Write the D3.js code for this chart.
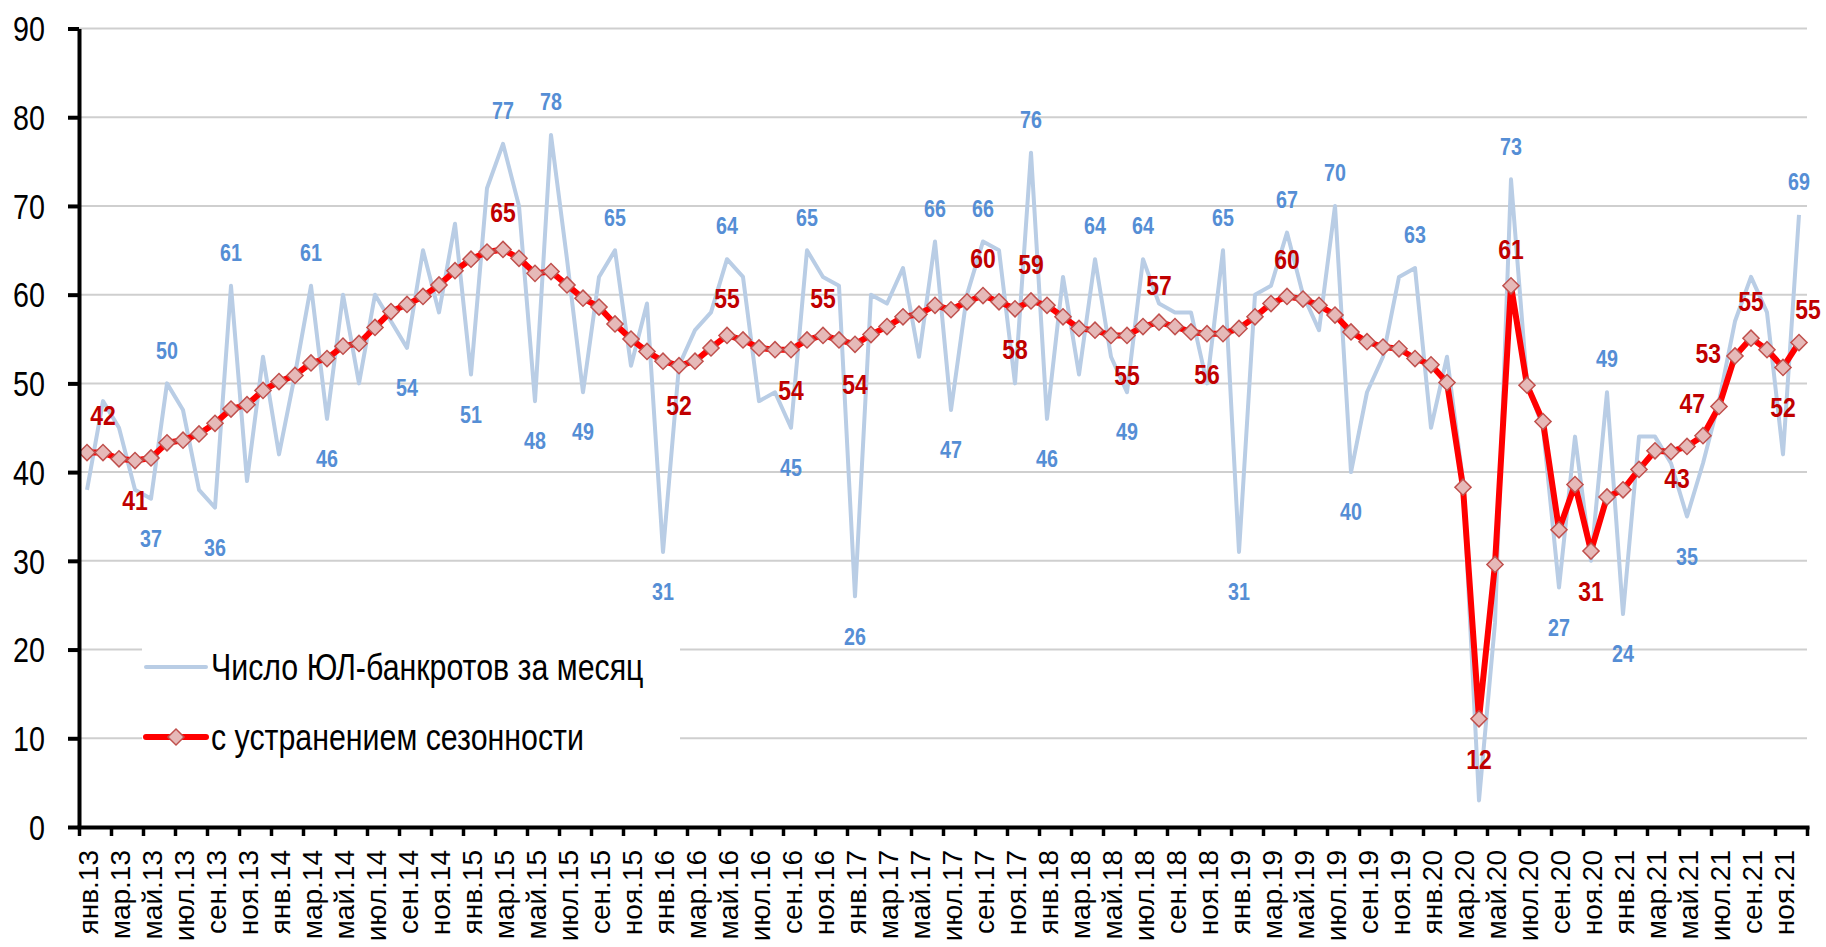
<!DOCTYPE html>
<html>
<head>
<meta charset="utf-8">
<script src="https://cdn.jsdelivr.net/npm/d3@7"></script>
<style>
  body { margin: 0; background: #fff; }
  svg { display: block; }
</style>
</head>
<body>
<script>
// month / year parts of the category labels
let monthNames = ['янв.', 'фев.', 'мар.', 'апр.', 'май.', 'июн.', 'июл.', 'авг.', 'сен.', 'окт.', 'ноя.', 'дек.'];
let years = ['13', '14', '15', '16', '17', '18', '19', '20', '21'];

// monthly number of bankrupt legal entities, jan.13 .. dec.21
let monthly = [
  38, 48, 45, 38, 37, 50, 47, 38, 36, 61, 39, 53,
  42, 51, 61, 46, 60, 50, 60, 57, 54, 65, 58, 68,
  51, 72, 77, 70, 48, 78, 64, 49, 62, 65, 52, 59,
  31, 52, 56, 58, 64, 62, 48, 49, 45, 65, 62, 61,
  26, 60, 59, 63, 53, 66, 47, 60, 66, 65, 50, 76,
  46, 62, 51, 64, 53, 49, 64, 59, 58, 58, 50, 65,
  31, 60, 61, 67, 60, 56, 70, 40, 49, 53, 62, 63,
  45, 53, 39, 3, 23, 73, 50, 45, 27, 44, 30, 49,
  24, 44, 44, 41, 35, 41, 48, 57, 62, 58, 42, 69
];

// seasonally adjusted
let adjusted = [
  42.2, 42.2, 41.5, 41.3, 41.6, 43.3, 43.6, 44.3, 45.5, 47.1, 47.6, 49.2,
  50.2, 50.9, 52.3, 52.8, 54.2, 54.5, 56.3, 58.1, 58.9, 59.8, 61.1, 62.7,
  64.0, 64.8, 65.1, 64.1, 62.4, 62.6, 61.1, 59.6, 58.6, 56.7, 55.0, 53.6,
  52.5, 52.0, 52.5, 54.0, 55.4, 54.9, 54.0, 53.8, 53.8, 54.9, 55.4, 54.9,
  54.4, 55.5, 56.4, 57.5, 57.8, 58.8, 58.3, 59.2, 59.9, 59.2, 58.4, 59.3,
  58.8, 57.5, 56.2, 56.0, 55.4, 55.4, 56.4, 56.9, 56.4, 55.8, 55.6, 55.6,
  56.2, 57.5, 59.0, 59.8, 59.5, 58.8, 57.7, 55.8, 54.7, 54.1, 53.9, 52.8,
  52.1, 50.1, 38.3, 12.2, 29.6, 61.0, 49.8, 45.7, 33.5, 38.6, 31.1, 37.2,
  38.0, 40.3, 42.4, 42.3, 42.9, 44.1, 47.4, 53.1, 55.1, 53.8, 51.8, 54.6
];

// which points carry a value label: [month index, side]
let monthlyLabels = [
  [4, 'b'], [5, 'a'], [8, 'b'], [9, 'a'], [14, 'a'], [15, 'b'], [20, 'b'],
  [24, 'b'], [26, 'a'], [28, 'b'], [29, 'a'], [31, 'b'], [33, 'a'], [36, 'b'],
  [40, 'a'], [44, 'b'], [45, 'a'], [48, 'b'], [53, 'a'], [54, 'b'], [56, 'a'],
  [59, 'a'], [60, 'b'], [63, 'a'], [65, 'b'], [66, 'a'], [71, 'a'], [72, 'b'],
  [75, 'a'], [78, 'a'], [79, 'b'], [83, 'a'], [89, 'a'], [92, 'b'], [95, 'a'],
  [96, 'b'], [100, 'b'], [107, 'a']
];
let adjustedLabels = [
  [1, 'a'], [3, 'b'], [26, 'a'], [37, 'b'], [40, 'a'], [44, 'b'], [46, 'a'],
  [48, 'b'], [56, 'a'], [58, 'b'], [59, 'a'], [65, 'b'], [67, 'a'], [70, 'b'],
  [75, 'a'], [87, 'b'], [89, 'a'], [94, 'b'], [100, 'bl'], [102, 'l'], [103, 'l'],
  [104, 'a'], [106, 'b'], [107, 'ar']
];

let yTicks = [0, 10, 20, 30, 40, 50, 60, 70, 80, 90];
let legendNames = ['Число ЮЛ-банкротов за месяц', 'с устранением сезонности'];

let months = [];
years.forEach(function(y) {
  monthNames.forEach(function(m) { months.push(m + y); });
});

// no narrow face installed: squeeze the regular one horizontally
let font = '"Liberation Sans", Arial, sans-serif';
let squeeze = 0.82;

let config = { svg: {}, plot: {} };
config.svg.width = 1826;
config.svg.height = 947;
config.plot.left = 79;
config.plot.right = 1807;
config.plot.top = 28.5;
config.plot.bottom = 827;

let svg = d3.select('body').append('svg')
  .attr('width', config.svg.width)
  .attr('height', config.svg.height);

let x = d3.scaleLinear().domain([0, months.length]).range([config.plot.left, config.plot.right]);
let y = d3.scaleLinear().domain([0, 90]).range([config.plot.bottom, config.plot.top]);
let cx = function(i) { return x(i + 0.5); };

// gridlines
svg.append('g')
  .selectAll('line')
  .data(yTicks.slice(1))
  .enter()
  .append('line')
  .attr('x1', config.plot.left)
  .attr('x2', config.plot.right)
  .attr('y1', d => y(d))
  .attr('y2', d => y(d))
  .attr('stroke', '#cfcfcf')
  .attr('stroke-width', 2);

// legend box sits over the gridlines
let legend = svg.append('g');
legend.append('rect')
  .attr('x', 142).attr('y', 626)
  .attr('width', 538).attr('height', 146)
  .attr('fill', '#fff');

// monthly line
svg.append('path')
  .datum(monthly)
  .attr('fill', 'none')
  .attr('stroke', '#b9cde5')
  .attr('stroke-width', 4)
  .attr('stroke-linejoin', 'round')
  .attr('d', d3.line().x((d, i) => cx(i)).y(d => y(d)));

// seasonally adjusted line
svg.append('path')
  .datum(adjusted)
  .attr('fill', 'none')
  .attr('stroke', '#ff0000')
  .attr('stroke-width', 6)
  .attr('stroke-linejoin', 'round')
  .attr('d', d3.line().x((d, i) => cx(i)).y(d => y(d)));

let diamond = d3.symbol().type(d3.symbolSquare).size(130);

svg.append('g')
  .selectAll('path')
  .data(adjusted)
  .enter()
  .append('path')
  .attr('d', diamond)
  .attr('transform', (d, i) => translate(cx(i), y(d)) + ' rotate(45)')
  .attr('fill', '#e6b9b8')
  .attr('stroke', '#c0504d')
  .attr('stroke-width', 1.5);

// axes
let gy = svg.append('g')
  .attr('transform', translate(config.plot.left, 0))
  .call(d3.axisLeft(y).tickValues(yTicks).tickSize(11).tickSizeOuter(0));
gy.select('.domain').attr('stroke-width', 4);
gy.selectAll('.tick line').attr('stroke-width', 4);
gy.selectAll('text')
  .attr('x', 0)
  .attr('dy', '0.35em')
  .attr('transform', translate(-34, 0) + ' scale(' + squeeze + ',1)')
  .attr('font-family', font)
  .attr('font-size', 35)
  .attr('fill', '#000');

let gx = svg.append('g')
  .attr('transform', translate(0, config.plot.bottom))
  .call(d3.axisBottom(x).tickValues(d3.range(0, months.length + 1, 2)).tickFormat('').tickSize(9).tickSizeOuter(0));
gx.select('.domain').attr('stroke-width', 4).attr('stroke-linecap', 'square');
gx.selectAll('.tick line').attr('stroke-width', 3.5);

let gl = svg.append('g')
  .attr('transform', translate(0, config.plot.bottom))
  .call(d3.axisBottom(x)
    .tickValues(d3.range(0, months.length, 2).map(i => i + 0.5))
    .tickFormat(d => months[d - 0.5])
    .tickSize(0));
gl.select('.domain').remove();
gl.selectAll('text')
  .attr('font-family', font)
  .attr('font-size', 28)
  .attr('fill', '#000')
  .attr('text-anchor', 'end')
  .attr('transform', 'rotate(-90)')
  .attr('x', -23)
  .attr('y', 0)
  .attr('dy', '0.36em');

// value labels
function labelPos(i, v, side, up, down) {
  let px = cx(i), py = y(v), anchor = 'middle';
  if (side === 'a') py -= up;
  if (side === 'b') py += down;
  if (side === 'ar') { py -= up - 4; px += 9; }
  if (side === 'bl') { py += down - 8; px -= 10; }
  if (side === 'l') { px -= 14; py -= 3; anchor = 'end'; }
  return { x: px, y: py, anchor: anchor };
}

function drawLabels(list, values, size, colour, up, down) {
  svg.append('g')
    .selectAll('text')
    .data(list)
    .enter()
    .append('text')
    .each(function(d) {
      let p = labelPos(d[0], values[d[0]], d[1], up, down);
      d3.select(this)
        .attr('transform', translate(p.x, p.y) + ' scale(' + squeeze + ',1)')
        .attr('text-anchor', p.anchor);
    })
    .attr('dominant-baseline', 'central')
    .attr('font-family', font)
    .attr('font-weight', 'bold')
    .attr('font-size', size)
    .attr('fill', colour)
    .text(d => Math.round(values[d[0]]));
}

drawLabels(monthlyLabels, monthly, 24, '#558ed5', 33, 40);
drawLabels(adjustedLabels, adjusted, 28, '#c00000', 37, 40);

// legend entries
legend.raise();
legend.append('line')
  .attr('x1', 146).attr('x2', 206)
  .attr('y1', 667).attr('y2', 667)
  .attr('stroke', '#b9cde5').attr('stroke-width', 4).attr('stroke-linecap', 'round');
legend.append('line')
  .attr('x1', 146).attr('x2', 206)
  .attr('y1', 737).attr('y2', 737)
  .attr('stroke', '#ff0000').attr('stroke-width', 6).attr('stroke-linecap', 'round');
legend.append('path')
  .attr('d', diamond)
  .attr('transform', translate(176, 737) + ' rotate(45)')
  .attr('fill', '#e6b9b8')
  .attr('stroke', '#c0504d')
  .attr('stroke-width', 1.5);
legend.selectAll('text')
  .data(legendNames)
  .enter()
  .append('text')
  .attr('transform', (d, i) => translate(211, 667 + i * 70) + ' scale(' + squeeze + ',1)')
  .attr('dominant-baseline', 'central')
  .attr('font-family', font)
  .attr('font-size', 37)
  .attr('fill', '#000')
  .text(d => d);

function translate(x, y) {
  return 'translate(' + x + ',' + y + ')';
}
</script>
</body>
</html>
